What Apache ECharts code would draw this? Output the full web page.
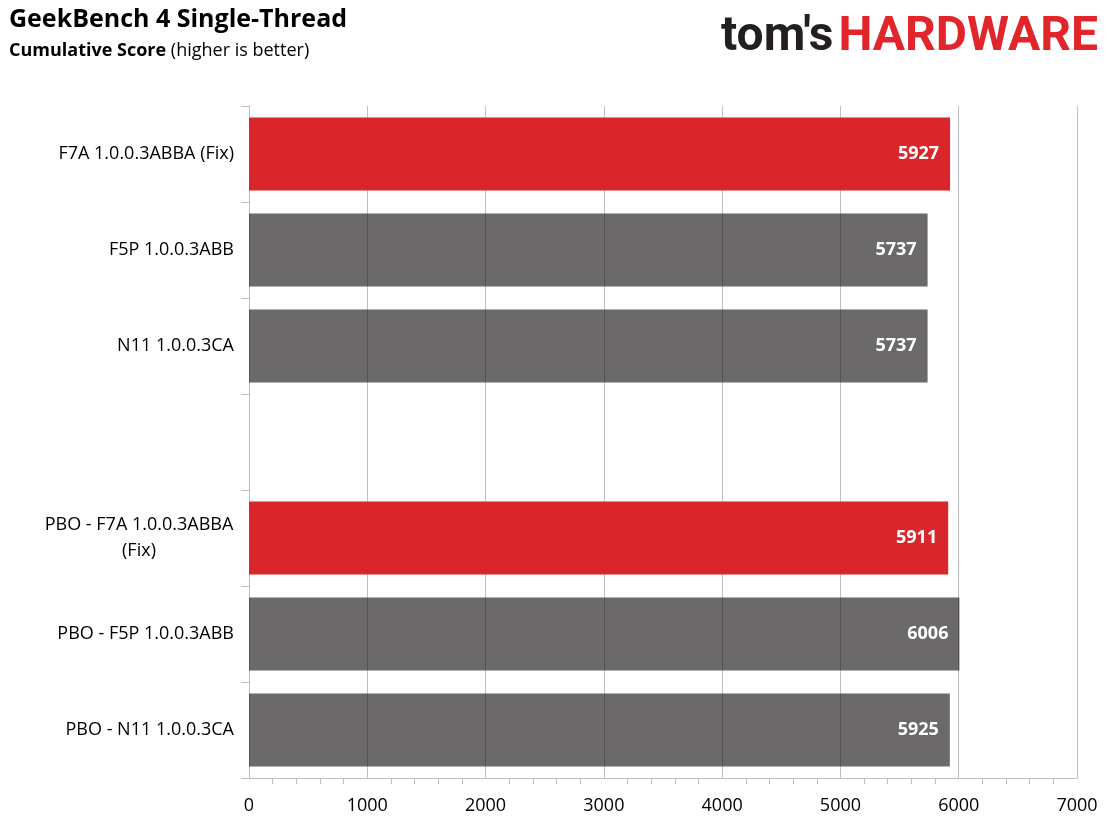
<!DOCTYPE html>
<html>
<head>
<meta charset="utf-8">
<title>GeekBench 4 Single-Thread</title>
<script src="https://cdn.jsdelivr.net/npm/echarts@6/dist/echarts.min.js"></script>
<style>
    html, body { margin: 0; padding: 0; background: #fff; }
    #chart { width: 1112px; height: 833px; }
</style>
</head>
<body>
<div id="chart"></div>
<script>
// ---------------------- 数据 ----------------------
const categories = [
    'F7A 1.0.0.3ABBA (Fix)',
    'F5P 1.0.0.3ABB',
    'N11 1.0.0.3CA',
    '',
    'PBO - F7A 1.0.0.3ABBA (Fix)',
    'PBO - F5P 1.0.0.3ABB',
    'PBO - N11 1.0.0.3CA'
];
const scores = [5927, 5737, 5737, null, 5911, 6006, 5925];
const xTicks = [0, 1000, 2000, 3000, 4000, 5000, 6000, 7000];

const titleText = 'GeekBench 4 Single-Thread';
const subtitleBold = 'Cumulative Score';
const subtitleRest = ' (higher is better)';

const FONT = '"Open Sans", "Noto Sans", sans-serif';
const LOGO_FONT = 'Roboto, "Noto Sans", sans-serif';
const RED = '#d9262b';
const GRAY = 'rgba(30, 27, 27, 0.66)';

const chart = echarts.init(document.getElementById('chart'));

chart.setOption({
    animation: false,
    backgroundColor: '#fff',
    textStyle: { fontFamily: FONT },
    graphic: [
        {
            type: 'text', left: 9, top: 7,
            style: { text: titleText, font: 'bold 25px ' + FONT, fill: '#000' }
        },
        {
            type: 'text', left: 9, top: 42,
            style: {
                text: '{b|' + subtitleBold + '}{n|' + subtitleRest + '}',
                rich: {
                    b: { fontFamily: FONT, fontWeight: 'bold', fontSize: 18, fill: '#000' },
                    n: { fontFamily: FONT, fontSize: 18, fill: '#000' }
                }
            }
        },
        {
            type: 'text', right: 14, top: 14,
            style: {
                text: "{a|tom's}{b|HARDWARE}",
                rich: {
                    a: { fontFamily: LOGO_FONT, fontWeight: 'bold', fontSize: 48, fill: '#231f20' },
                    b: { fontFamily: LOGO_FONT, fontWeight: 'bold', fontSize: 48, fill: '#e2242b', padding: [0, 0, 0, 5] }
                }
            }
        }
    ],
    grid: { left: 249, right: 35, top: 106, bottom: 55 },
    xAxis: {
        type: 'value',
        min: xTicks[0],
        max: xTicks[xTicks.length - 1],
        interval: 1000,
        axisLine: { show: true, lineStyle: { color: '#bfbfbf', width: 1 } },
        axisTick: { show: false },
        minorTick: { show: true, splitNumber: 5, length: 6, lineStyle: { color: '#bfbfbf' } },
        splitLine: { show: true, lineStyle: { color: '#bfbfbf', width: 1 } },
        axisLabel: {
            color: '#000', fontSize: 18, margin: 19, fontFamily: FONT,
            formatter: function(v) { return String(v); }
        }
    },
    yAxis: {
        type: 'category',
        inverse: true,
        data: categories,
        axisLine: { show: true, lineStyle: { color: '#bfbfbf' } },
        axisTick: { show: true, length: 8, lineStyle: { color: '#bfbfbf' } },
        axisLabel: {
            color: '#000',
            fontSize: 18,
            margin: 15,
            fontFamily: FONT,
            formatter: function(v) {
                // 长标签拆两行，居中
                if (v.length > 24) {
                    const cut = v.lastIndexOf(' ');
                    return '{c|' + v.slice(0, cut) + '}\n{c|' + v.slice(cut + 1) + '}';
                }
                return v;
            },
            rich: {
                c: { fontFamily: FONT, fontSize: 18, color: '#000', width: 190, align: 'center', lineHeight: 26 }
            }
        }
    },
    series: [
        {
            type: 'bar',
            data: scores,
            barCategoryGap: '24%',
            itemStyle: {
                color: function(p) {
                    return p.name.indexOf('F7A') >= 0 ? RED : GRAY;
                }
            },
            label: {
                show: true,
                position: 'insideRight',
                distance: 11,
                color: '#fff',
                fontWeight: 'bold',
                fontSize: 18,
                fontFamily: FONT
            }
        }
    ]
});
</script>
</body>
</html>
